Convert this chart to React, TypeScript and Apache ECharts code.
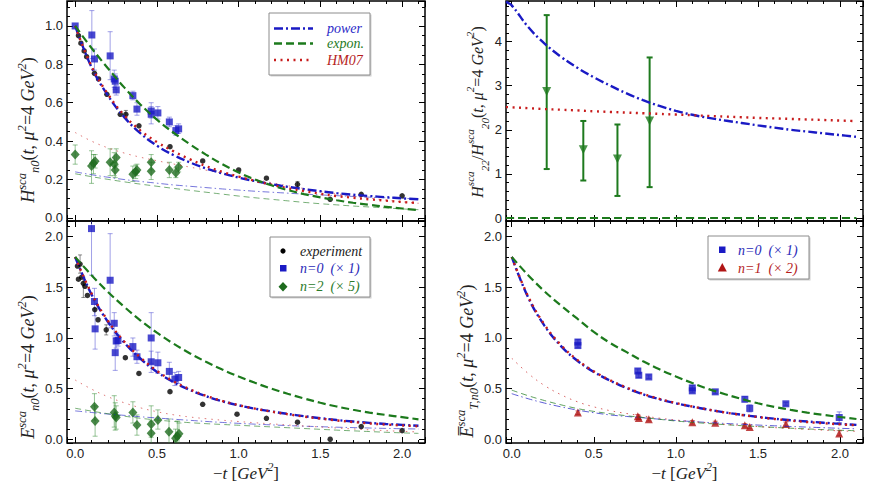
import React, { useEffect, useRef } from "react";
import * as echarts from "echarts";

// sampling points of the model curves (-t in GeV^2)
const curveT = [0, 0.1, 0.2, 0.3, 0.4, 0.5, 0.6, 0.7, 0.8, 0.9, 1.0, 1.1, 1.2, 1.3, 1.4, 1.5, 1.6, 1.7, 1.8, 1.9, 2.0, 2.1];
// the ratio panel draws its curves from the left edge of the frame
const ratioT = [-0.035, 0, 0.1, 0.2, 0.3, 0.4, 0.5, 0.6, 0.7, 0.8, 0.9, 1.0, 1.1, 1.2, 1.3, 1.4, 1.5, 1.6, 1.7, 1.8, 1.9, 2.0, 2.1];

// top left: H_n0
const hPowerN0 = [1.0, 0.785, 0.638, 0.525, 0.44, 0.376, 0.328, 0.29, 0.258, 0.232, 0.21, 0.192, 0.176, 0.162, 0.15, 0.139, 0.129, 0.121, 0.114, 0.108, 0.102, 0.097];
const hHm07N0 = [1.0, 0.79, 0.645, 0.535, 0.455, 0.395, 0.348, 0.306, 0.27, 0.24, 0.215, 0.193, 0.173, 0.155, 0.14, 0.126, 0.114, 0.105, 0.097, 0.09, 0.083, 0.078];
const hExponN0 = [1.0, 0.885, 0.78, 0.68, 0.59, 0.512, 0.445, 0.385, 0.33, 0.28, 0.237, 0.2, 0.17, 0.145, 0.124, 0.107, 0.092, 0.079, 0.068, 0.058, 0.049, 0.041];
const hPowerN2 = [0.24, 0.225, 0.212, 0.2, 0.19, 0.181, 0.172, 0.165, 0.158, 0.151, 0.145, 0.139, 0.134, 0.129, 0.124, 0.12, 0.116, 0.112, 0.108, 0.105, 0.102, 0.099];
const hHm07N2 = [0.445, 0.4, 0.365, 0.338, 0.316, 0.298, 0.281, 0.265, 0.249, 0.233, 0.217, 0.2, 0.184, 0.168, 0.153, 0.139, 0.126, 0.114, 0.103, 0.093, 0.084, 0.076];
const hExponN2 = [0.23, 0.215, 0.201, 0.188, 0.176, 0.165, 0.154, 0.144, 0.134, 0.124, 0.114, 0.105, 0.097, 0.089, 0.081, 0.074, 0.068, 0.062, 0.057, 0.052, 0.047, 0.043];

// bottom left: E_n0
const ePowerN0 = [1.8, 1.43, 1.16, 0.955, 0.795, 0.665, 0.565, 0.488, 0.425, 0.375, 0.335, 0.302, 0.275, 0.25, 0.228, 0.208, 0.19, 0.175, 0.162, 0.151, 0.142, 0.133];
const eHm07N0 = [1.8, 1.44, 1.17, 0.965, 0.805, 0.675, 0.573, 0.494, 0.43, 0.378, 0.337, 0.302, 0.273, 0.247, 0.224, 0.204, 0.186, 0.17, 0.156, 0.145, 0.136, 0.128];
const eExponN0 = [1.8, 1.62, 1.455, 1.308, 1.172, 1.052, 0.945, 0.85, 0.765, 0.688, 0.62, 0.557, 0.5, 0.449, 0.403, 0.36, 0.323, 0.291, 0.263, 0.24, 0.218, 0.197];
const ePowerN2 = [0.28, 0.264, 0.249, 0.236, 0.222, 0.21, 0.198, 0.187, 0.176, 0.166, 0.157, 0.149, 0.142, 0.135, 0.129, 0.124, 0.119, 0.115, 0.111, 0.107, 0.104, 0.101];
const eHm07N2 = [0.585, 0.495, 0.42, 0.36, 0.31, 0.272, 0.242, 0.22, 0.203, 0.188, 0.175, 0.163, 0.152, 0.141, 0.131, 0.121, 0.111, 0.102, 0.093, 0.085, 0.078, 0.072];
const eExponN2 = [0.306, 0.278, 0.252, 0.228, 0.207, 0.19, 0.176, 0.164, 0.154, 0.146, 0.138, 0.13, 0.122, 0.114, 0.106, 0.098, 0.09, 0.083, 0.076, 0.069, 0.063, 0.058];

// top right: H22/H20
const rPower = [4.9, 4.82, 4.33, 3.955, 3.655, 3.405, 3.19, 3.0, 2.825, 2.67, 2.54, 2.43, 2.34, 2.27, 2.21, 2.155, 2.1, 2.05, 2.0, 1.96, 1.92, 1.88, 1.84];
const rHm07 = [2.515, 2.51, 2.49, 2.47, 2.455, 2.44, 2.42, 2.405, 2.39, 2.375, 2.36, 2.345, 2.33, 2.315, 2.3, 2.285, 2.27, 2.258, 2.246, 2.234, 2.222, 2.21, 2.198];
const rExpon = [0, 0, 0, 0, 0, 0, 0, 0, 0, 0, 0, 0, 0, 0, 0, 0, 0, 0, 0, 0, 0, 0, 0];

// bottom right: Ebar_T,n0
const tPowerN0 = [1.8, 1.4, 1.12, 0.92, 0.775, 0.665, 0.578, 0.505, 0.443, 0.395, 0.355, 0.322, 0.292, 0.265, 0.242, 0.221, 0.203, 0.188, 0.175, 0.163, 0.152, 0.142];
const tHm07N0 = [1.8, 1.41, 1.13, 0.93, 0.782, 0.67, 0.582, 0.51, 0.448, 0.399, 0.358, 0.323, 0.292, 0.264, 0.24, 0.219, 0.2, 0.184, 0.17, 0.158, 0.147, 0.138];
const tExponN0 = [1.8, 1.62, 1.46, 1.32, 1.19, 1.06, 0.95, 0.86, 0.77, 0.69, 0.62, 0.555, 0.495, 0.445, 0.398, 0.355, 0.32, 0.29, 0.263, 0.24, 0.22, 0.2];
const tPowerN1 = [0.45, 0.4, 0.357, 0.32, 0.288, 0.262, 0.24, 0.225, 0.212, 0.198, 0.185, 0.175, 0.165, 0.156, 0.148, 0.14, 0.133, 0.126, 0.12, 0.114, 0.108, 0.103];
const tHm07N1 = [0.8, 0.65, 0.53, 0.44, 0.37, 0.32, 0.282, 0.254, 0.23, 0.208, 0.19, 0.175, 0.161, 0.148, 0.136, 0.125, 0.115, 0.106, 0.098, 0.09, 0.083, 0.078];
const tExponN1 = [0.485, 0.43, 0.382, 0.34, 0.303, 0.275, 0.252, 0.232, 0.215, 0.197, 0.18, 0.167, 0.155, 0.144, 0.134, 0.125, 0.117, 0.109, 0.102, 0.095, 0.089, 0.084];

// measured points: [-t, value, low, high]
const hExp = [
  [0.02, 0.95, 0.95, 0.95], [0.035, 0.91, 0.91, 0.91], [0.055, 0.87, 0.87, 0.87], [0.07, 0.84, 0.84, 0.84],
  [0.118, 0.753, 0.753, 0.753], [0.143, 0.724, 0.724, 0.724], [0.194, 0.644, 0.644, 0.644], [0.276, 0.54, 0.54, 0.54],
  [0.31, 0.54, 0.52, 0.56], [0.39, 0.48, 0.48, 0.48], [0.58, 0.371, 0.371, 0.371], [0.78, 0.297, 0.297, 0.297],
  [1.0, 0.25, 0.25, 0.25], [1.17, 0.207, 0.207, 0.207], [1.36, 0.175, 0.16, 0.19], [1.56, 0.097, 0.097, 0.097],
  [1.75, 0.123, 0.123, 0.123], [2.0, 0.115, 0.115, 0.115],
];
const hLatN0 = [
  [0.0, 1.0, 1.0, 1.0], [0.102, 0.953, 0.83, 1.08], [0.118, 0.828, 0.77, 0.88], [0.214, 0.844, 0.72, 0.97],
  [0.239, 0.724, 0.68, 0.77], [0.245, 0.712, 0.67, 0.75], [0.251, 0.667, 0.64, 0.69], [0.353, 0.637, 0.615, 0.66],
  [0.378, 0.567, 0.535, 0.6], [0.465, 0.557, 0.52, 0.6], [0.465, 0.54, 0.49, 0.58], [0.506, 0.547, 0.515, 0.58],
  [0.576, 0.5, 0.475, 0.525], [0.616, 0.455, 0.43, 0.48], [0.633, 0.464, 0.44, 0.49],
];
const hLatN2 = [
  [0.0, 0.33, 0.28, 0.38], [0.1, 0.27, 0.18, 0.35], [0.112, 0.285, 0.23, 0.33], [0.122, 0.295, 0.26, 0.33],
  [0.214, 0.29, 0.22, 0.36], [0.239, 0.28, 0.22, 0.34], [0.245, 0.25, 0.21, 0.29], [0.251, 0.315, 0.27, 0.36],
  [0.353, 0.228, 0.19, 0.27], [0.37, 0.24, 0.205, 0.275], [0.378, 0.25, 0.22, 0.28], [0.465, 0.29, 0.25, 0.33],
  [0.465, 0.243, 0.2, 0.29], [0.576, 0.25, 0.21, 0.29], [0.616, 0.235, 0.21, 0.26], [0.633, 0.265, 0.24, 0.29],
];
const eExp = [
  [0.014, 1.71, 1.71, 1.71], [0.02, 1.58, 1.58, 1.58], [0.03, 1.73, 1.64, 1.82], [0.04, 1.6, 1.6, 1.6],
  [0.05, 1.54, 1.4, 1.6], [0.06, 1.51, 1.51, 1.51], [0.075, 1.42, 1.42, 1.42], [0.12, 1.28, 1.28, 1.28],
  [0.14, 1.18, 1.18, 1.18], [0.19, 1.08, 1.03, 1.13], [0.307, 0.805, 0.805, 0.805], [0.39, 0.65, 0.65, 0.65],
  [0.58, 0.47, 0.47, 0.47], [0.78, 0.345, 0.345, 0.345], [0.99, 0.247, 0.247, 0.247], [1.17, 0.207, 0.207, 0.207],
  [1.36, 0.168, 0.168, 0.168], [1.56, 0.0, 0.0, 0.0], [1.75, 0.125, 0.125, 0.125], [2.0, 0.085, 0.085, 0.085],
];
const eLatN0 = [
  [0.1, 2.08, 1.62, 2.6], [0.118, 1.36, 1.22, 1.49], [0.122, 1.09, 0.89, 1.29], [0.214, 1.57, 1.1, 2.03],
  [0.239, 1.145, 1.02, 1.25], [0.245, 0.855, 0.68, 1.0], [0.251, 0.97, 0.9, 1.05], [0.262, 0.975, 0.92, 1.03],
  [0.353, 0.915, 0.82, 1.0], [0.378, 0.815, 0.75, 0.88], [0.465, 1.0, 0.75, 1.25], [0.465, 0.765, 0.66, 0.87],
  [0.506, 0.755, 0.65, 0.86], [0.576, 0.67, 0.59, 0.76], [0.61, 0.595, 0.53, 0.66], [0.633, 0.61, 0.55, 0.67],
];
const eLatN2 = [
  [0.118, 0.32, 0.19, 0.45], [0.122, 0.18, 0.03, 0.33], [0.239, 0.263, 0.12, 0.43], [0.245, 0.23, 0.09, 0.36],
  [0.251, 0.215, 0.1, 0.33], [0.353, 0.263, 0.16, 0.37], [0.378, 0.141, 0.04, 0.24], [0.465, 0.148, 0.02, 0.33],
  [0.465, 0.059, -0.05, 0.18], [0.506, 0.19, 0.1, 0.29], [0.574, 0.075, -0.05, 0.2], [0.614, 0.01, -0.05, 0.1],
  [0.625, 0.03, -0.05, 0.18], [0.635, 0.055, -0.05, 0.16],
];
const rLat = [
  [0.213, 2.87, 1.11, 4.6], [0.436, 1.55, 0.85, 2.2], [0.644, 1.34, 0.5, 2.12], [0.84, 2.2, 0.7, 3.64],
];
const tLatN0 = [
  [0.403, 0.96, 0.94, 0.985], [0.403, 0.925, 0.905, 0.945], [0.768, 0.674, 0.655, 0.695], [0.774, 0.632, 0.61, 0.655],
  [0.835, 0.615, 0.6, 0.635], [1.1, 0.507, 0.485, 0.53], [1.1, 0.478, 0.46, 0.5], [1.24, 0.468, 0.45, 0.485],
  [1.42, 0.395, 0.37, 0.42], [1.45, 0.305, 0.27, 0.34], [1.67, 0.35, 0.335, 0.365], [1.995, 0.215, 0.165, 0.27],
];
const tLatN1 = [
  [0.403, 0.263, 0.245, 0.28], [0.768, 0.227, 0.21, 0.245], [0.774, 0.21, 0.195, 0.225], [0.835, 0.197, 0.18, 0.21],
  [1.1, 0.168, 0.15, 0.185], [1.24, 0.162, 0.148, 0.178], [1.42, 0.138, 0.12, 0.155], [1.45, 0.122, 0.105, 0.14],
  [1.67, 0.15, 0.13, 0.17], [1.995, 0.058, 0.035, 0.085],
];

const BLUE = "#1a1ac4";
const GREEN = "#1c7a1c";
const RED = "#c81c1c";
const SERIF = "'Liberation Serif', 'DejaVu Serif', serif";
const SANS = "'Liberation Sans', Arial, sans-serif";

const panels = [
  { left: 67, top: 1, width: 358, height: 220, x: [-0.05, 2.14], y: [-0.016, 1.13], yStep: 0.2, yMinor: 0.05, yDec: 1, xLabels: false },
  { left: 67, top: 221, width: 358, height: 222, x: [-0.05, 2.14], y: [-0.037, 2.155], yStep: 0.5, yMinor: 0.1, yDec: 1, xLabels: true },
  { left: 506, top: 1, width: 357, height: 220, x: [-0.035, 2.14], y: [-0.068, 4.92], yStep: 1, yMinor: 0.2, yDec: 0, xLabels: false },
  { left: 506, top: 221, width: 357, height: 222, x: [-0.035, 2.14], y: [-0.037, 2.155], yStep: 0.5, yMinor: 0.1, yDec: 1, xLabels: true },
];

const rich = (size: number) => ({
  it: { fontFamily: SERIF, fontStyle: "italic", fontSize: size, lineHeight: 26, color: "#222" },
  rm: { fontFamily: SERIF, fontSize: size, lineHeight: 26, color: "#222" },
  sup: { fontFamily: SERIF, fontStyle: "italic", fontSize: size * 0.7, lineHeight: 13, verticalAlign: "top", color: "#222" },
  sub: { fontFamily: SERIF, fontStyle: "italic", fontSize: size * 0.7, lineHeight: 13, verticalAlign: "bottom", color: "#222" },
});

const yTitles = [
  "{it|H}{sup|sca}{sub|n0}{rm|(}{it|t}{rm|, }{it|μ}{sup|2}{rm|=4 }{it|GeV}{sup|2}{rm|)}",
  "{it|E}{sup|sca}{sub|n0}{rm|(}{it|t}{rm|, }{it|μ}{sup|2}{rm|=4 }{it|GeV}{sup|2}{rm|)}",
  "{it|H}{sup|sca}{sub|22}{rm|/}{it|H}{sup|sca}{sub|20}{rm|(}{it|t}{rm|, }{it|μ}{sup|2}{rm|=4 }{it|GeV}{sup|2}{rm|)}",
  "{it|E\u0305}{sup|sca}{sub|T,n0}{rm|(}{it|t}{rm|, }{it|μ}{sup|2}{rm|=4 }{it|GeV}{sup|2}{rm|)}",
];
const yTitleGap = [19, 18, 13, 20];
const yTitleSize = [18, 18, 16, 18];
const yTitleShift = [38, 70, 2, 58];
const xTitle = "{rm|−}{it|t}{rm| [}{it|GeV}{sup|2}{rm|]}";

const onStep = (v: number, step: number) => Math.abs(v / step - Math.round(v / step)) < 1e-6;

const makeAxis = (grid: number, pos: string, range: number[], step: number, tickLen: number, label: any, name?: any) => ({
  type: "value",
  gridIndex: grid,
  position: pos,
  min: range[0],
  max: range[1],
  minInterval: step,
  maxInterval: step,
  splitNumber: Math.round((range[1] - range[0]) / step),
  axisLine: { show: false, onZero: false },
  axisTick: { show: true, inside: true, length: tickLen, lineStyle: { color: "#000", width: 1 } },
  axisLabel: label || { show: false },
  splitLine: { show: false },
  ...(name || {}),
});

const lineSeries = (p: number, ts: number[], vals: number[], color: string, dash: number[], width: number, opacity = 1) => ({
  type: "line",
  xAxisIndex: p * 4,
  yAxisIndex: p * 4,
  data: ts.map((t, i) => [t, vals[i]]),
  symbol: "none",
  smooth: 0.4,
  silent: true,
  lineStyle: { color, width, type: dash, opacity },
});

const errSeries = (p: number, pts: number[][], color: string, width: number, cap: number) => ({
  type: "custom",
  xAxisIndex: p * 4,
  yAxisIndex: p * 4,
  clip: true,
  silent: true,
  data: pts.filter((d) => d[3] > d[2]).map((d) => [d[0], d[2], d[3]]),
  encode: { x: 0, y: [1, 2] },
  renderItem: (_params: any, api: any) => {
    const a = api.coord([api.value(0), api.value(1)]);
    const b = api.coord([api.value(0), api.value(2)]);
    const style = { stroke: color, lineWidth: width };
    return {
      type: "group",
      children: [
        { type: "line", shape: { x1: a[0], y1: a[1], x2: b[0], y2: b[1] }, style },
        { type: "line", shape: { x1: a[0] - cap, y1: a[1], x2: a[0] + cap, y2: a[1] }, style },
        { type: "line", shape: { x1: b[0] - cap, y1: b[1], x2: b[0] + cap, y2: b[1] }, style },
      ],
    };
  },
});

const dotSeries = (p: number, pts: number[][], symbol: string, size: any, color: string, rotate = 0) => ({
  type: "scatter",
  xAxisIndex: p * 4,
  yAxisIndex: p * 4,
  data: pts.map((d) => [d[0], d[1]]),
  symbol,
  symbolSize: size,
  symbolRotate: rotate,
  silent: true,
  itemStyle: { color },
});

const POWER = [9, 3, 2, 3];
const EXPON = [8, 4];
const HM07 = [2, 4.5];
const POWER_THIN = [7, 3, 1.5, 3];
const EXPON_THIN = [6, 4];
const HM07_THIN = [1.5, 5];

// legend decorations
const legendText = (x: number, y: number, text: string, color: string, size = 14) => ({
  type: "text", x, y, z: 102,
  style: { text, fill: color, fontFamily: SERIF, fontStyle: "italic", fontSize: size, verticalAlign: "middle", align: "left" },
});
const legendFrame = (x: number, y: number, w: number, h: number) => [
  { type: "rect", z: 100, shape: { x: x + 1.5, y: y + 1.5, width: w, height: h }, style: { fill: "#cfcfcf" } },
  { type: "rect", z: 101, shape: { x, y, width: w, height: h }, style: { fill: "#fff", stroke: "#8c8c8c", lineWidth: 1 } },
];
const legendLine = (y: number, color: string, dash: number[]) => ({
  type: "line", z: 102, shape: { x1: 274, y1: y, x2: 313, y2: y }, style: { stroke: color, lineWidth: 2.4, lineDash: dash },
});

const graphics = [
  ...legendFrame(269, 13, 101, 62),
  legendLine(28.5, BLUE, POWER),
  legendLine(43.5, GREEN, EXPON),
  legendLine(60, RED, HM07),
  legendText(327, 28.5, "power", "#2a2ac8", 14),
  legendText(327, 43.5, "expon.", "#257a25", 14),
  legendText(327, 60, "HM07", "#b51c1c", 14),

  ...legendFrame(270, 237, 100, 60),
  { type: "circle", z: 102, shape: { cx: 283, cy: 251, r: 2.6 }, style: { fill: "#000" } },
  { type: "rect", z: 102, shape: { x: 280, y: 265, width: 6.5, height: 6.5 }, style: { fill: BLUE } },
  { type: "polygon", z: 102, shape: { points: [[283, 282], [287.5, 286.7], [283, 291.4], [278.5, 286.7]] }, style: { fill: "#1e6b1e" } },
  legendText(300, 251, "experiment", "#222"),
  legendText(300, 268.3, "n=0  (× 1)", "#2a2ab8"),
  legendText(300, 286.7, "n=2  (× 5)", "#2a7a2a"),

  ...legendFrame(708, 236, 101, 43),
  { type: "rect", z: 102, shape: { x: 719, y: 246.5, width: 6.5, height: 6.5 }, style: { fill: BLUE } },
  { type: "polygon", z: 102, shape: { points: [[722.3, 263], [726.8, 271.5], [717.8, 271.5]] }, style: { fill: "#b01515" } },
  legendText(738, 250, "n=0  (× 1)", "#2a2ab8"),
  legendText(738, 268, "n=1  (× 2)", "#b51c1c"),
];

const App = () => {
  const chartRef = useRef<HTMLDivElement>(null);

  useEffect(() => {
    if (!chartRef.current) return;
    const chart = echarts.init(chartRef.current, null, { renderer: "svg" });

    const xAxes: any[] = [];
    const yAxes: any[] = [];
    panels.forEach((pn, p) => {
      const tickLabel = (dec: number, step: number) => ({
        show: true,
        color: "#222",
        fontFamily: SANS,
        fontSize: 13,
        margin: 4,
        formatter: (v: number) => (onStep(v, step) ? v.toFixed(dec) : ""),
      });
      const xName = pn.xLabels
        ? {
            name: xTitle,
            nameLocation: "middle",
            nameGap: 16,
            nameTextStyle: { rich: rich(17) },
          }
        : null;
      xAxes.push(makeAxis(p, "bottom", pn.x, 0.5, 6, pn.xLabels ? tickLabel(1, 0.5) : null, xName));
      xAxes.push(makeAxis(p, "bottom", pn.x, 0.1, 3, null));
      xAxes.push(makeAxis(p, "top", pn.x, 0.5, 6, null));
      xAxes.push(makeAxis(p, "top", pn.x, 0.1, 3, null));
      const yName = {
        name: yTitles[p],
        nameLocation: "middle",
        nameRotate: 90,
        nameGap: yTitleGap[p],
        nameTextStyle: { rich: rich(yTitleSize[p]), padding: [0, yTitleShift[p], 0, 0] },
      };
      yAxes.push(makeAxis(p, "left", pn.y, pn.yStep, 6, tickLabel(pn.yDec, pn.yStep), yName));
      yAxes.push(makeAxis(p, "left", pn.y, pn.yMinor, 3, null));
      yAxes.push(makeAxis(p, "right", pn.y, pn.yStep, 6, null));
      yAxes.push(makeAxis(p, "right", pn.y, pn.yMinor, 3, null));
    });

    const series: any[] = [
      // top left
      lineSeries(0, curveT, hPowerN2, BLUE, POWER_THIN, 1, 0.6),
      lineSeries(0, curveT, hExponN2, GREEN, EXPON_THIN, 1, 0.6),
      lineSeries(0, curveT, hHm07N2, RED, HM07_THIN, 1, 0.6),
      lineSeries(0, curveT, hPowerN0, BLUE, POWER, 2.4),
      lineSeries(0, curveT, hHm07N0, RED, HM07, 2.4),
      lineSeries(0, curveT, hExponN0, GREEN, EXPON, 2.2),
      errSeries(0, hExp, "rgba(0,0,0,0.45)", 1, 2),
      errSeries(0, hLatN0, "rgba(70,70,210,0.5)", 1, 2.5),
      errSeries(0, hLatN2, "rgba(50,140,50,0.5)", 1, 2.5),
      dotSeries(0, hExp, "circle", 5.5, "#000"),
      dotSeries(0, hLatN2, "diamond", [9, 10], "#1e6b1e"),
      dotSeries(0, hLatN0, "rect", 7, BLUE),
      // bottom left
      lineSeries(1, curveT, ePowerN2, BLUE, POWER_THIN, 1, 0.6),
      lineSeries(1, curveT, eExponN2, GREEN, EXPON_THIN, 1, 0.6),
      lineSeries(1, curveT, eHm07N2, RED, HM07_THIN, 1, 0.6),
      lineSeries(1, curveT, ePowerN0, BLUE, POWER, 2.4),
      lineSeries(1, curveT, eHm07N0, RED, HM07, 2.4),
      lineSeries(1, curveT, eExponN0, GREEN, EXPON, 2.2),
      errSeries(1, eExp, "rgba(0,0,0,0.45)", 1, 2),
      errSeries(1, eLatN0, "rgba(70,70,210,0.5)", 1, 2.5),
      errSeries(1, eLatN2, "rgba(50,140,50,0.5)", 1, 2.5),
      dotSeries(1, eExp, "circle", 5.5, "#000"),
      dotSeries(1, eLatN2, "diamond", [9, 10], "#1e6b1e"),
      dotSeries(1, eLatN0, "rect", 7, BLUE),
      // top right
      lineSeries(2, ratioT, rExpon, GREEN, EXPON, 2.2),
      lineSeries(2, ratioT, rPower, BLUE, POWER, 2.4),
      lineSeries(2, ratioT, rHm07, RED, HM07, 2.4),
      errSeries(2, rLat, "#1e7a1e", 2, 3),
      dotSeries(2, rLat, "triangle", 9, "#1e7a1e", 180),
      // bottom right
      lineSeries(3, curveT, tPowerN1, BLUE, POWER_THIN, 1, 0.7),
      lineSeries(3, curveT, tExponN1, GREEN, EXPON_THIN, 1, 0.7),
      lineSeries(3, curveT, tHm07N1, RED, HM07_THIN, 1, 0.7),
      lineSeries(3, curveT, tPowerN0, BLUE, POWER, 2.4),
      lineSeries(3, curveT, tHm07N0, RED, HM07, 2.4),
      lineSeries(3, curveT, tExponN0, GREEN, EXPON, 2.2),
      errSeries(3, tLatN0, "rgba(70,70,210,0.6)", 1, 2.5),
      errSeries(3, tLatN1, "rgba(180,30,30,0.6)", 1, 2.5),
      dotSeries(3, tLatN1, "triangle", 8, "#b01515"),
      dotSeries(3, tLatN0, "rect", 7, BLUE),
    ];

    chart.setOption({
      animation: false,
      backgroundColor: "#fff",
      grid: panels.map((pn) => ({
        left: pn.left,
        top: pn.top,
        width: pn.width,
        height: pn.height,
        show: true,
        borderColor: "#000",
        borderWidth: 1.5,
        backgroundColor: "transparent",
        containLabel: false,
      })),
      xAxis: xAxes,
      yAxis: yAxes,
      series,
      graphic: { elements: graphics },
    });

    return () => {
      chart.dispose();
    };
  }, []);

  return (
    <div
      ref={chartRef}
      style={{ position: "absolute", left: 0, top: 0, width: 872, height: 485 }}
    />
  );
};

export default App;
